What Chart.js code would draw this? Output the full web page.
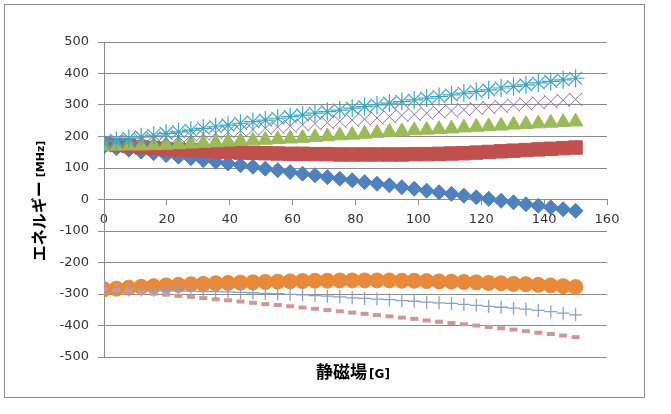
<!DOCTYPE html>
<html>
<head>
<meta charset="utf-8">
<script src="https://cdn.jsdelivr.net/npm/chart.js@4/dist/chart.umd.min.js"></script>
<style>
  html, body { margin: 0; padding: 0; background: #fff; }
  #wrap { position: relative; width: 671px; height: 414px; }
</style>
</head>
<body>
<div id="wrap"><canvas id="myChart"></canvas></div>
<script>
// magnetic field [G]
const fieldG = [0, 3.95, 7.89, 11.84, 15.79, 19.74, 23.68, 27.63, 31.58, 35.53, 39.47, 43.42, 47.37,
  51.32, 55.26, 59.21, 63.16, 67.11, 71.05, 75, 78.95, 82.89, 86.84, 90.79, 94.74, 98.68, 102.63,
  106.58, 110.53, 114.47, 118.42, 122.37, 126.32, 130.26, 134.21, 138.16, 142.11, 146.05, 150]

// energies [MHz]
const level1 = [168, 163, 158, 152, 147, 141, 136, 131, 125, 120, 114, 109, 104, 98, 93, 87, 82, 77,
  71, 66, 61, 55, 50, 45, 39, 34, 28, 23, 18, 12, 7, 2, -4, -9, -15, -20, -25, -31, -36]
const level2 = [176, 173, 170, 166, 163, 160, 158, 156, 154, 152, 151, 149, 148, 147, 146, 145, 145,
  144, 144, 143, 143, 143, 143, 143, 143, 144, 144, 145, 146, 147, 149, 151, 153, 155, 157, 159, 161, 163, 165]
const level3 = [170, 170, 171, 171, 172, 173, 175, 177, 179, 181, 183, 185, 187, 189, 191, 193, 195,
  198, 200, 203, 205, 208, 211, 214, 216, 219, 221, 223, 225, 228, 230, 232, 234, 237, 239, 241, 243, 245, 247]
const level4 = [178, 182, 185, 189, 193, 196, 200, 204, 208, 211, 215, 219, 222, 226, 230, 233, 237,
  241, 244, 248, 252, 255, 259, 263, 267, 270, 274, 278, 281, 285, 289, 292, 296, 300, 303, 307, 311, 315, 318]
const level5 = [183, 188, 194, 199, 204, 210, 215, 220, 226, 231, 236, 242, 247, 252, 258, 263, 268,
  274, 279, 284, 290, 295, 300, 306, 311, 316, 322, 327, 332, 338, 343, 348, 354, 359, 364, 370, 375, 380, 385]
const level6 = [-285, -283, -280, -277, -275, -273, -271, -269, -268, -266, -265, -264, -263, -262,
  -261, -260, -259, -258, -258, -257, -257, -257, -257, -257, -258, -258, -259, -260, -261, -262,
  -263, -265, -266, -268, -269, -271, -273, -275, -278]
const level7 = [-286, -286, -287, -287, -288, -289, -290, -291, -292, -292, -293, -295, -296, -298,
  -299, -301, -303, -305, -307, -309, -312, -314, -316, -318, -321, -323, -326, -328, -330, -333,
  -336, -339, -342, -345, -348, -352, -356, -361, -366]
const level8 = [-285, -288, -291, -295, -299, -302, -306, -309, -313, -317, -320, -324, -328, -332,
  -335, -339, -343, -347, -351, -355, -359, -363, -367, -371, -375, -379, -384, -388, -392, -396,
  -400, -405, -409, -413, -418, -423, -427, -432, -437]

const xTicks = [0, 20, 40, 60, 80, 100, 120, 140, 160]
const yTicks = [-500, -400, -300, -200, -100, 0, 100, 200, 300, 400, 500]

const toPoints = arr => fieldG.map((x, i) => ({ x: x, y: arr[i] }))

const tickFont = { family: 'DejaVu Sans', size: 13 }
const gridColor = '#8c8c8c'

const series = [
  { data: level1, style: 'rectRot', r: 7.5, color: '#4F81BD', fill: true },
  { data: level2, style: 'rect', r: 9.5, color: '#C0504D', fill: true },
  { data: level3, style: 'triangle', r: 8.5, color: '#9BBB59', fill: true },
  { data: level4, style: 'crossRot', r: 9.5, color: '#8A72B0', fill: false, w: 1 },
  { data: level5, style: 'star', r: 9, color: '#3FA5BF', fill: false, w: 1.2 },
  { data: level6, style: 'circle', r: 7.5, color: '#E98A3B', fill: true },
  { data: level7, style: 'cross', r: 6.5, color: '#8BA2C4', fill: false, w: 1.3 },
  { data: level8, style: 'line', r: 4, color: '#D09698', fill: false, w: 4 }
]

// draws the frame and the two axis titles (mixed font sizes)
const extras = {
  id: 'extras',
  beforeDraw(chart) {
    const c = chart.ctx
    c.save()
    c.fillStyle = '#fff'
    c.fillRect(0, 0, chart.width, chart.height)
    c.strokeStyle = '#8c8c8c'
    c.lineWidth = 1
    c.strokeRect(4.5, 4.5, 640, 393)
    c.restore()
  },
  afterDraw(chart) {
    const c = chart.ctx
    c.save()
    c.fillStyle = '#000'
    c.textBaseline = 'alphabetic'
    // x title
    const bigX = 'bold 17px "Noto Sans CJK JP"'
    const smallX = 'bold 12px "DejaVu Sans"'
    c.font = bigX
    const w1 = c.measureText('静磁場').width
    c.font = smallX
    const w2 = c.measureText('[G]').width
    let x0 = 353 - (w1 + 2 + w2) / 2
    c.font = bigX
    c.fillText('静磁場', x0, 378)
    c.font = smallX
    c.fillText('[G]', x0 + w1 + 2, 378)
    // y title
    c.translate(39, 201)
    c.rotate(-Math.PI / 2)
    const bigY = 'bold 16px "Noto Sans CJK JP"'
    const smallY = 'bold 11px "DejaVu Sans"'
    c.font = bigY
    const v1 = c.measureText('エネルギー').width
    c.font = smallY
    const v2 = c.measureText('[MHz]').width
    x0 = -(v1 + 4 + v2) / 2
    c.font = bigY
    c.fillText('エネルギー', x0, 6)
    c.font = smallY
    c.fillText('[MHz]', x0 + v1 + 4, 5)
    c.restore()
  }
}

new Chart(document.getElementById('myChart'), {
  type: 'scatter',
  data: {
    datasets: series.map((s, i) => ({
      data: toPoints(s.data),
      showLine: false,
      order: series.length - i,
      pointStyle: s.style,
      pointRadius: s.r,
      pointHoverRadius: s.r,
      pointBorderWidth: s.w || 1,
      pointBorderColor: s.color,
      pointBackgroundColor: s.fill ? s.color : 'rgba(0,0,0,0)'
    }))
  },
  options: {
    responsive: true,
    maintainAspectRatio: false,
    animation: false,
    layout: { padding: { top: 42, right: 64, bottom: 57, left: 0 } },
    plugins: {
      legend: { display: false },
      tooltip: { enabled: false }
    },
    scales: {
      x: {
        type: 'linear',
        position: { y: 0 },
        min: 0,
        max: 160,
        afterBuildTicks: axis => { axis.ticks = xTicks.map(v => ({ value: v })) },
        ticks: { font: tickFont, color: '#333', padding: 7, maxRotation: 0 },
        grid: { drawOnChartArea: false, drawTicks: true, tickLength: 5, color: gridColor },
        border: { display: true, color: gridColor }
      },
      y: {
        type: 'linear',
        min: -500,
        max: 500,
        afterBuildTicks: axis => { axis.ticks = yTicks.map(v => ({ value: v })) },
        afterFit: axis => { axis.width = 104 },
        ticks: { font: tickFont, color: '#333', padding: 9 },
        grid: { color: gridColor, tickLength: 6 },
        border: { display: true, color: gridColor }
      }
    }
  },
  plugins: [extras]
})
</script>
</body>
</html>
